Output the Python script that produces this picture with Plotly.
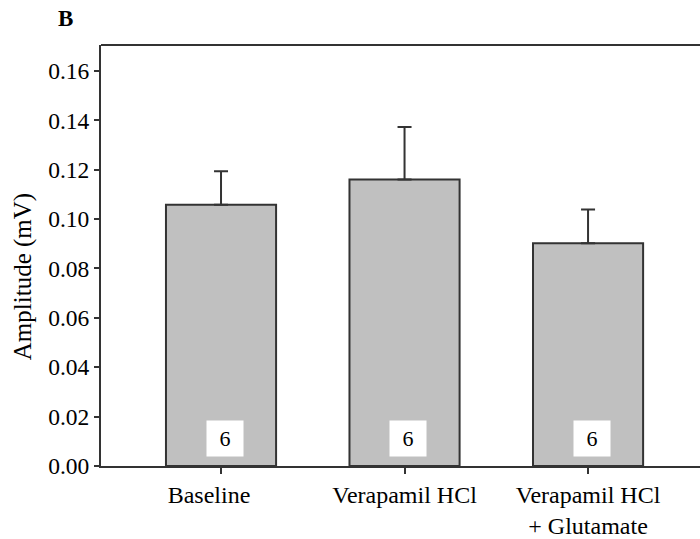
import plotly.graph_objects as go

categories = ["Baseline\u00a0\u00a0\u00a0\u00a0", "Verapamil HCl", "Verapamil HCl<br>+ Glutamate"]
means = [0.1058, 0.1160, 0.0902]
errors = [0.0136, 0.0213, 0.0137]
n_labels = ["6", "6", "6"]
y_ticks = [0.00, 0.02, 0.04, 0.06, 0.08, 0.10, 0.12, 0.14, 0.16]
y_title = "Amplitude (mV)"

FONT = "Liberation Serif, Times New Roman, serif"
xpos = list(range(len(categories)))

fig = go.Figure()
fig.add_trace(go.Bar(
    x=xpos, y=means, width=0.6,
    marker=dict(color="#c0c0c0", line=dict(color="#333333", width=2)),
    error_y=dict(type="data", array=errors, arrayminus=[0] * len(errors),
                 symmetric=False, color="#333333", thickness=2, width=7),
    showlegend=False, hoverinfo="skip",
))

for x, lab in zip(xpos, n_labels):
    fig.add_annotation(x=x + 0.02, y=0.0113, text=lab, showarrow=False,
                       xref="x", yref="y", bgcolor="white",
                       font=dict(family=FONT, size=22, color="black"),
                       width=34, height=33, align="center")

fig.add_annotation(x=-0.075, y=1.0, xref="paper", yref="paper",
                   xanchor="left", yanchor="bottom", yshift=12,
                   text="<b>B</b>", showarrow=False,
                   font=dict(family=FONT, size=23, color="black"))

fig.add_annotation(x=0, y=0.4485, xref="paper", yref="paper",
                   xanchor="center", yanchor="middle", xshift=-78,
                   text=y_title, textangle=-90, showarrow=False,
                   font=dict(family=FONT, size=25, color="black"))

fig.add_shape(type="line", xref="paper", yref="paper", x0=0, x1=1, y0=1, y1=1,
              line=dict(color="#333333", width=2))

fig.update_layout(
    width=700, height=539,
    margin=dict(l=101, r=0, t=45, b=71),
    paper_bgcolor="white", plot_bgcolor="white",
    font=dict(family=FONT, size=23, color="black"),
    bargap=0.4,
    xaxis=dict(
        range=[-0.654, 2.61], tickvals=xpos, ticktext=categories,
        showline=True, linecolor="#333333", linewidth=2,
        ticks="outside", ticklen=6, tickwidth=2, tickcolor="#333333",
        showgrid=False, zeroline=False, tickangle=0,
        tickfont=dict(family=FONT, size=24, color="black"),
    ),
    yaxis=dict(
        range=[0, 0.1705], tickvals=y_ticks,
        ticktext=[f"{v:.2f}" for v in y_ticks],
        showline=True, linecolor="#333333", linewidth=2,
        ticks="outside", ticklen=5, tickwidth=2, tickcolor="#333333",
        showgrid=False, zeroline=False,
        tickfont=dict(family=FONT, size=23.5, color="black"),
    ),
)

fig.write_html("out.html")
